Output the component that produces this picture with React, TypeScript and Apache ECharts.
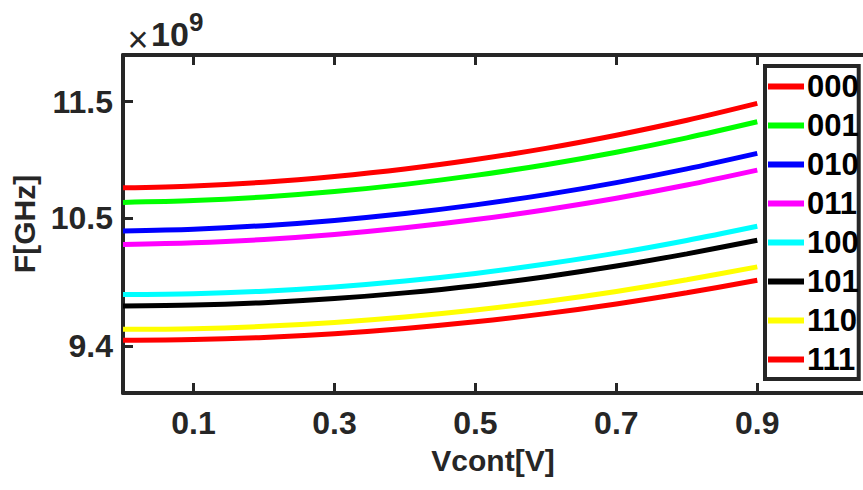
import React, { useEffect, useRef } from "react";
import * as echarts from "echarts";

const vcont = [0, 0.1, 0.2, 0.3, 0.4, 0.5, 0.6, 0.7, 0.8, 0.9];
const xTicks = [0.1, 0.3, 0.5, 0.7, 0.9];
const yTicks = [9.4, 10.5, 11.5];
const seriesNames = ["000", "001", "010", "011", "100", "101", "110", "111"];
const seriesColors = ["#ff0000", "#00ff00", "#0000ff", "#ff00ff", "#00ffff", "#000000", "#ffff00", "#ff0000"];

const f000 = [10.760, 10.777, 10.809, 10.858, 10.922, 11.003, 11.099, 11.212, 11.340, 11.485];
const f001 = [10.635, 10.651, 10.682, 10.728, 10.790, 10.867, 10.959, 11.066, 11.189, 11.327];
const f010 = [10.391, 10.406, 10.436, 10.481, 10.540, 10.614, 10.702, 10.805, 10.923, 11.056];
const f011 = [10.274, 10.289, 10.317, 10.360, 10.417, 10.488, 10.573, 10.671, 10.784, 10.912];
const f100 = [9.845, 9.852, 9.874, 9.910, 9.961, 10.026, 10.106, 10.200, 10.309, 10.431];
const f101 = [9.747, 9.754, 9.775, 9.810, 9.859, 9.921, 9.998, 10.089, 10.194, 10.311];
const f110 = [9.546, 9.552, 9.572, 9.605, 9.652, 9.712, 9.785, 9.871, 9.971, 10.082];
const f111 = [9.452, 9.458, 9.477, 9.509, 9.554, 9.611, 9.681, 9.764, 9.860, 9.967];
const seriesValues = [f000, f001, f010, f011, f100, f101, f110, f111];

const FONT = "'Liberation Sans', Arial, sans-serif";
const AXIS = "#262626";

export default function App() {
  const ref = useRef<HTMLDivElement>(null);
  useEffect(() => {
    if (!ref.current) return;
    const chart = echarts.init(ref.current, null, { renderer: "svg" });
    const tickStyle = { show: true, inside: true, length: 10, lineStyle: { color: AXIS, width: 3 } };
    chart.setOption({
      animation: false,
      backgroundColor: "#fff",
      grid: { left: 123, top: 55, width: 743, height: 338, containLabel: false },
      xAxis: [
        {
          type: "value",
          min: 0,
          max: 1.05,
          position: "bottom",
          name: "Vcont[V]",
          nameLocation: "middle",
          nameGap: 52,
          nameTextStyle: { fontFamily: FONT, fontWeight: "bold", fontSize: 30, color: AXIS },
          axisLine: { show: true, onZero: false, lineStyle: { color: AXIS, width: 4 } },
          axisTick: { ...tickStyle, customValues: xTicks },
          axisLabel: {
            customValues: xTicks,
            formatter: (v: number) => v.toFixed(1),
            margin: 14,
            fontFamily: FONT,
            fontWeight: "bold",
            fontSize: 32,
            color: AXIS,
          },
          splitLine: { show: false },
        },
        {
          type: "value",
          min: 0,
          max: 1.05,
          position: "top",
          axisLine: { show: true, onZero: false, lineStyle: { color: AXIS, width: 4 } },
          axisTick: { ...tickStyle, customValues: xTicks },
          axisLabel: { show: false },
          splitLine: { show: false },
        },
      ],
      yAxis: [
        {
          type: "value",
          min: 9.0,
          max: 11.9,
          name: "F[GHz]",
          nameLocation: "middle",
          nameRotate: 90,
          nameGap: 80,
          nameTextStyle: { fontFamily: FONT, fontWeight: "bold", fontSize: 30, color: AXIS },
          axisLine: { show: true, onZero: false, lineStyle: { color: AXIS, width: 4 } },
          axisTick: { ...tickStyle, customValues: yTicks },
          axisLabel: {
            customValues: yTicks,
            formatter: (v: number) => String(v),
            margin: 10,
            fontFamily: FONT,
            fontWeight: "bold",
            fontSize: 32,
            color: AXIS,
          },
          splitLine: { show: false },
        },
      ],
      legend: {
        orient: "vertical",
        left: 765,
        top: 66,
        padding: [5, 0, 4, 3],
        itemGap: 8,
        itemWidth: 36,
        itemHeight: 6,
        icon: "rect",
        borderColor: AXIS,
        borderWidth: 4,
        backgroundColor: "#fff",
        textStyle: { fontFamily: FONT, fontWeight: "bold", fontSize: 31, color: "#000", padding: [0, 0, 0, -2] },
        data: seriesNames,
      },
      graphic: [
        {
          type: "text",
          x: 138,
          y: 39,
          style: { text: "×", fill: AXIS, font: `normal 36px ${FONT}`, align: "center", verticalAlign: "middle" },
        },
        {
          type: "text",
          x: 151,
          y: 17,
          style: { text: "10", fill: AXIS, font: `bold 34px ${FONT}`, align: "left", verticalAlign: "top" },
        },
        {
          type: "text",
          x: 189,
          y: 9,
          style: { text: "9", fill: AXIS, font: `bold 26px ${FONT}`, align: "left", verticalAlign: "top" },
        },
      ],
      series: seriesNames.map((name, i) => ({
        name,
        type: "line",
        xAxisIndex: 0,
        yAxisIndex: 0,
        data: vcont.map((x, j) => [x, seriesValues[i][j]]),
        smooth: 0.3,
        showSymbol: false,
        symbol: "none",
        lineStyle: { color: seriesColors[i], width: 5 },
        itemStyle: { color: seriesColors[i] },
      })),
    });
    return () => chart.dispose();
  }, []);
  return (
    <div
      ref={ref}
      style={{ position: "absolute", left: 0, top: 0, width: 863, height: 490, background: "#fff" }}
    />
  );
}
